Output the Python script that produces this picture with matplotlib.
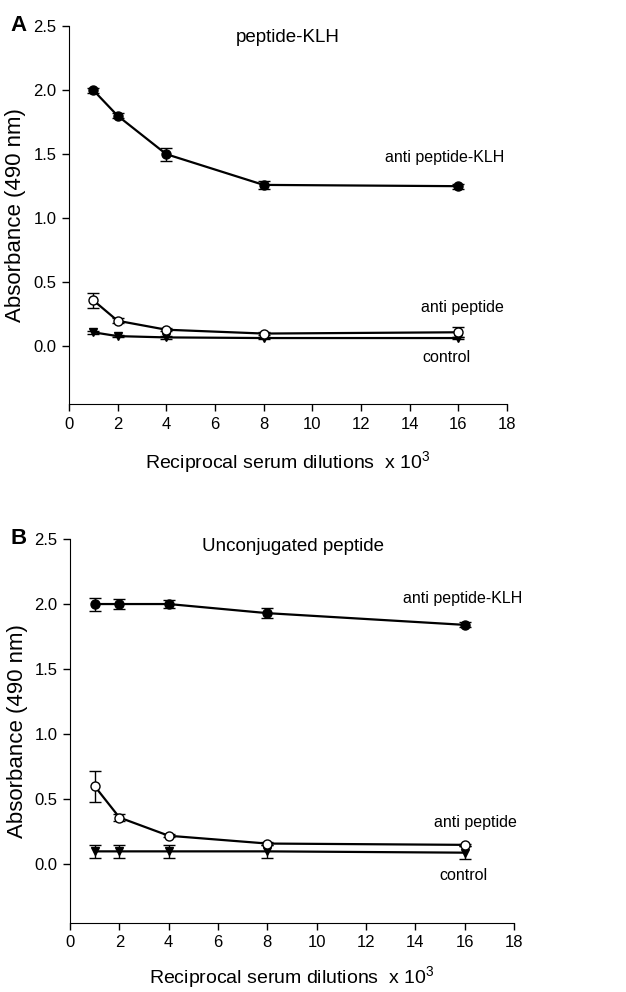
import matplotlib
matplotlib.use("Agg")
import matplotlib.pyplot as plt

plt.rcParams['font.family'] = ['Liberation Sans', 'DejaVu Sans']
plt.rcParams['mathtext.fontset'] = 'custom'
plt.rcParams['mathtext.rm'] = 'Liberation Sans'

dilutions = [1, 2, 4, 8, 16]

# Panel A: peptide-KLH
a_klh = [2.00, 1.80, 1.50, 1.26, 1.25]
a_klh_err = [0.02, 0.02, 0.05, 0.03, 0.02]
a_pep = [0.36, 0.20, 0.13, 0.10, 0.11]
a_pep_err = [0.06, 0.02, 0.01, 0.01, 0.04]
a_ctl = [0.11, 0.08, 0.07, 0.065, 0.065]
a_ctl_err = [0.01, 0.01, 0.01, 0.01, 0.01]

# Panel B: Unconjugated peptide
b_klh = [2.00, 2.00, 2.00, 1.93, 1.84]
b_klh_err = [0.05, 0.04, 0.03, 0.04, 0.02]
b_pep = [0.60, 0.36, 0.22, 0.16, 0.15]
b_pep_err = [0.12, 0.03, 0.01, 0.01, 0.01]
b_ctl = [0.10, 0.10, 0.10, 0.10, 0.09]
b_ctl_err = [0.05, 0.05, 0.05, 0.05, 0.05]

panel_titles = ["peptide-KLH", "Unconjugated peptide"]
panel_letters = ["A", "B"]
series_names = ["anti peptide-KLH", "anti peptide", "control"]
xticks = [0, 2, 4, 6, 8, 10, 12, 14, 16, 18]
yticks = [0.0, 0.5, 1.0, 1.5, 2.0, 2.5]

fig = plt.figure(figsize=(6.26, 9.92), dpi=100)
axA = fig.add_axes([0.110, 0.5927, 0.700, 0.3811])
axB = fig.add_axes([0.112, 0.0696, 0.709, 0.3871])

def draw(ax, klh, klh_e, pep, pep_e, ctl, ctl_e, title, letter, lab_pos, title_pos, xpad):
    kw = dict(color='black', lw=1.6, capsize=4.5, elinewidth=1.0, capthick=1.0)
    ax.errorbar(dilutions, ctl, yerr=ctl_e, marker='v', ms=6, mfc='black', mec='black', zorder=3, **kw)
    ax.errorbar(dilutions, pep, yerr=pep_e, marker='o', ms=6.5, mfc='white', mec='black', mew=1.0, zorder=4, **kw)
    ax.errorbar(dilutions, klh, yerr=klh_e, marker='o', ms=6.5, mfc='black', mec='black', zorder=5, **kw)
    ax.set_xlim(0, 18)
    ax.set_ylim(-0.45, 2.5)
    ax.set_xticks(xticks)
    ax.set_yticks(yticks)
    ax.set_yticklabels([f"{v:.1f}" for v in yticks])
    ax.spines['top'].set_visible(False)
    ax.spines['right'].set_visible(False)
    ax.tick_params(direction='out', length=5, width=1, labelsize=12, pad=4)
    ax.set_ylabel("Absorbance (490 nm)", fontsize=16, labelpad=5)
    ax.set_xlabel(r"Reciprocal serum dilutions  x 10$^3$", fontsize=14, labelpad=xpad)
    ax.text(title_pos[0], title_pos[1], title, ha='center', va='center', fontsize=13.5)
    for name, (x, y) in zip(series_names, lab_pos):
        ax.text(x, y, name, ha='center', va='center', fontsize=11.5)
    ax.text(-0.116, 1.0, letter, transform=ax.transAxes, fontsize=16, fontweight='bold',
            ha='center', va='center')

draw(axA, a_klh, a_klh_err, a_pep, a_pep_err, a_ctl, a_ctl_err,
     panel_titles[0], panel_letters[0],
     [(15.45, 1.47), (16.15, 0.30), (15.5, -0.086)], (9.0, 2.41), 13)
draw(axB, b_klh, b_klh_err, b_pep, b_pep_err, b_ctl, b_ctl_err,
     panel_titles[1], panel_letters[1],
     [(15.9, 2.04), (16.45, 0.32), (15.95, -0.085)], (9.04, 2.44), 10)

fig.savefig("out.png", dpi=100)
